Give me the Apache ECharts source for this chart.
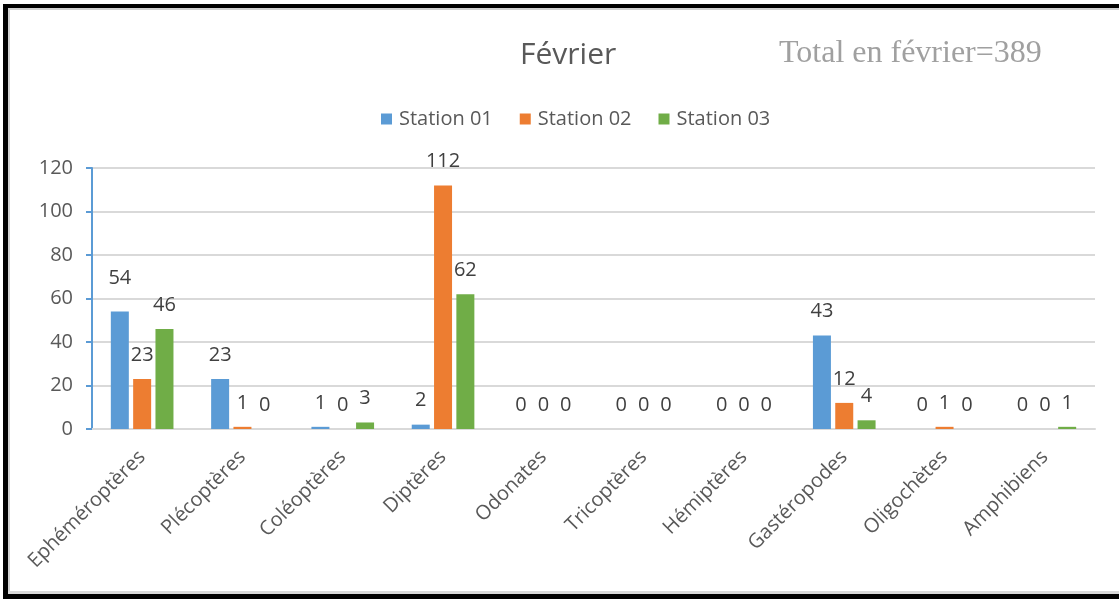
<!DOCTYPE html>
<html>
<head>
<meta charset="utf-8">
<script src="https://cdn.jsdelivr.net/npm/echarts@6/dist/echarts.min.js"></script>
<style>
  html, body { margin: 0; padding: 0; background: #fff; }
  #main { width: 1119px; height: 599px; }
</style>
</head>
<body>
<div id="main"></div>
<script>
var categories = ['Ephéméroptères', 'Plécoptères', 'Coléoptères', 'Diptères', 'Odonates',
  'Tricoptères', 'Hémiptères', 'Gastéropodes', 'Oligochètes', 'Amphibiens']
var station01 = [54, 23, 1, 2, 0, 0, 0, 43, 0, 0]
var station02 = [23, 1, 0, 112, 0, 0, 0, 12, 1, 0]
var station03 = [46, 0, 3, 62, 0, 0, 0, 4, 0, 1]
var seriesNames = ['Station 01', 'Station 02', 'Station 03']
var colors = ['#5b9bd5', '#ed7d31', '#70ad47']

var chart = echarts.init(document.getElementById('main'))

function barSeries(name, data, color) {
  return {
    name: name,
    type: 'bar',
    barWidth: 18,
    barGap: '24%',
    itemStyle: { color: color },
    label: {
      show: true,
      position: 'top',
      distance: 14,
      color: '#404040',
      fontSize: 20,
      fontFamily: 'Open Sans'
    },
    data: data
  }
}

var series = [
  barSeries(seriesNames[0], station01, colors[0]),
  barSeries(seriesNames[1], station02, colors[1]),
  barSeries(seriesNames[2], station03, colors[2])
]
// the first label sits a bit higher in the original
series[0].data = station01.map(function (v, i) {
  return i === 0 ? { value: v, label: { distance: 23 } } : v
})

chart.setOption({
  animation: false,
  title: {
    text: 'Février',
    left: 515,
    top: 35,
    textStyle: { color: '#595959', fontSize: 30, fontWeight: 'normal', fontFamily: 'Open Sans' }
  },
  graphic: [
    // frame
    { type: 'rect', shape: { x: 3, y: 4, width: 1130, height: 4 }, style: { fill: '#000' } },
    { type: 'rect', shape: { x: 3, y: 4, width: 5, height: 595 }, style: { fill: '#000' } },
    { type: 'rect', shape: { x: 3, y: 594, width: 1130, height: 5 }, style: { fill: '#000' } },
    { type: 'rect', shape: { x: 8, y: 8, width: 1130, height: 2 }, style: { fill: '#d0d0d0' } },
    { type: 'rect', shape: { x: 8, y: 8, width: 2, height: 586 }, style: { fill: '#d0d0d0' } },
    { type: 'rect', shape: { x: 8, y: 591, width: 1130, height: 3 }, style: { fill: '#d8d8d8' } },
    {
      type: 'text',
      left: 779,
      top: 38,
      style: {
        text: 'Total en février=389',
        fill: '#a0a0a0',
        fontSize: 32,
        fontFamily: 'Liberation Serif'
      }
    }
  ],
  legend: {
    data: seriesNames,
    left: 376,
    top: 104,
    itemWidth: 11,
    itemHeight: 11,
    itemGap: 27,
    icon: 'rect',
    textStyle: { color: '#595959', fontSize: 20, fontFamily: 'Open Sans', padding: [0, 0, 0, 2] }
  },
  grid: {
    left: 92,
    right: 24,
    top: 168,
    bottom: 170
  },
  xAxis: {
    type: 'category',
    data: categories,
    axisLine: { lineStyle: { color: '#d9d9d9', width: 2 } },
    axisTick: { show: false },
    axisLabel: {
      rotate: 45,
      color: '#595959',
      fontSize: 20,
      fontFamily: 'Open Sans',
      margin: 25,
      interval: 0
    }
  },
  yAxis: {
    type: 'value',
    min: 0,
    max: 120,
    interval: 20,
    axisLine: { show: true, lineStyle: { color: '#5b9bd5', width: 2 } },
    axisTick: { show: true, length: 6, lineStyle: { color: '#5b9bd5', width: 2 } },
    axisLabel: { color: '#595959', fontSize: 20, fontFamily: 'Open Sans', margin: 19 },
    splitLine: { lineStyle: { color: '#d9d9d9', width: 2 } }
  },
  series: series
})
</script>
</body>
</html>
